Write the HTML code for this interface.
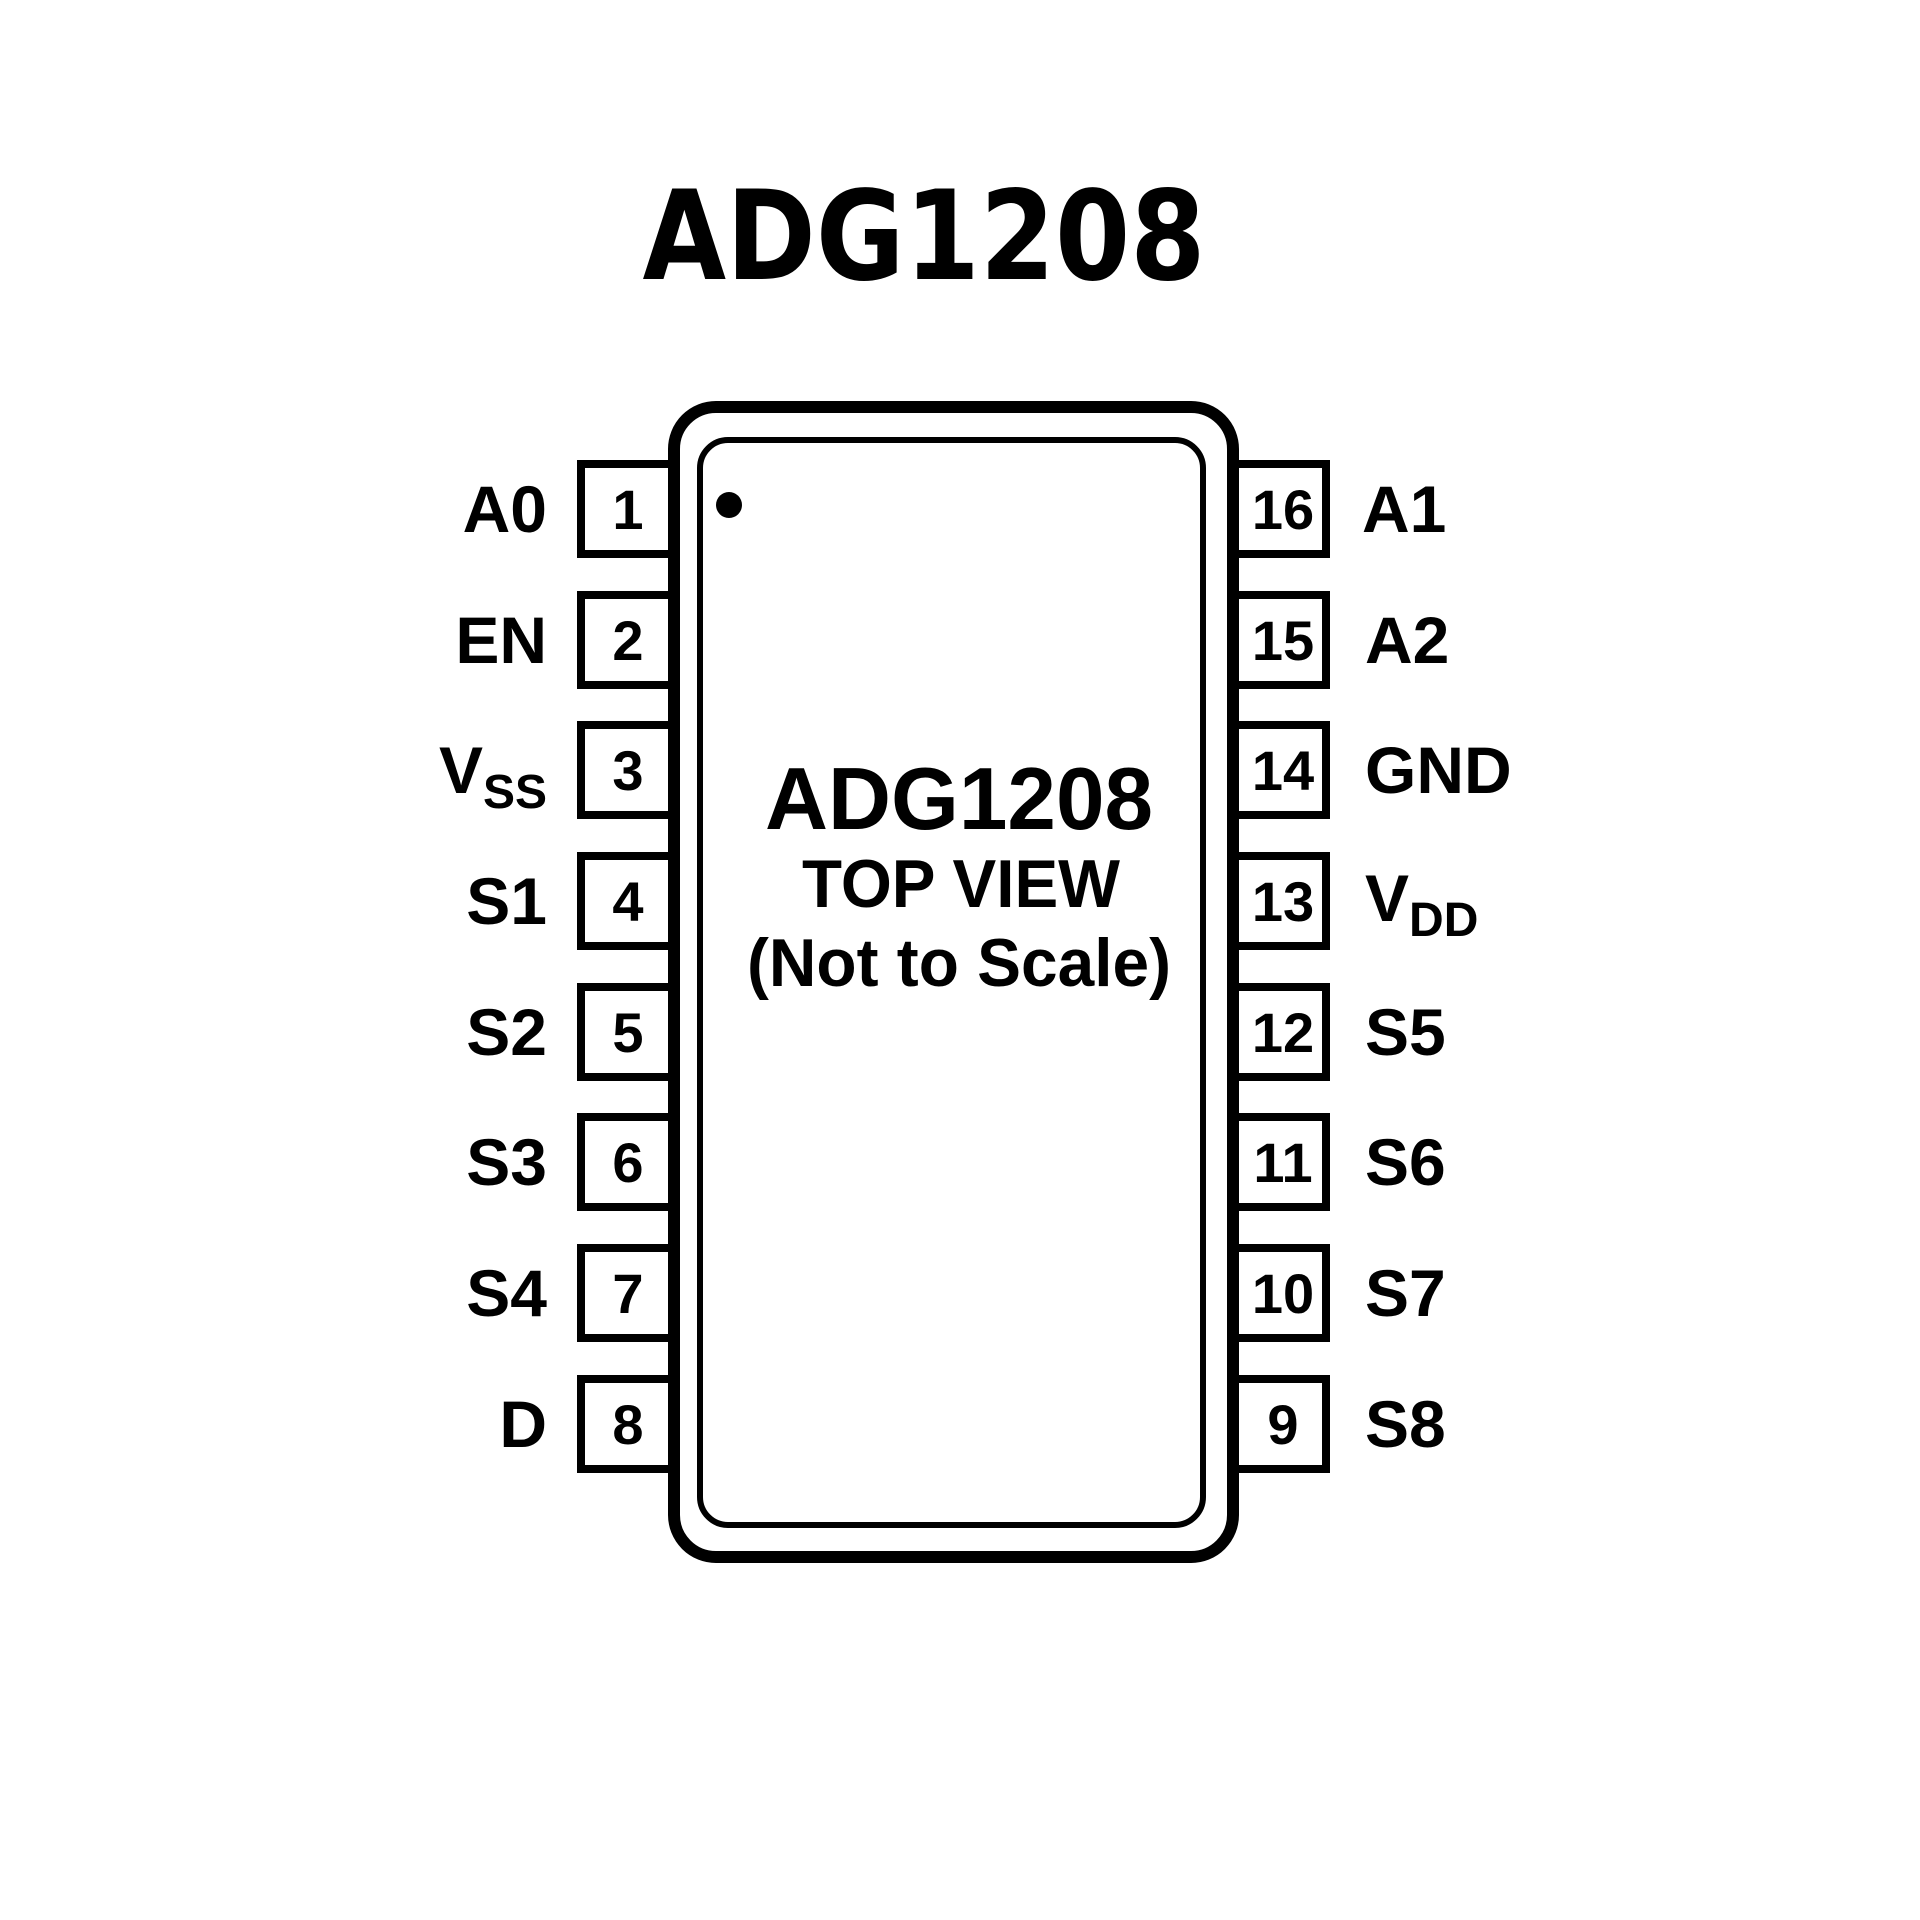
<!DOCTYPE html>
<html><head><meta charset="utf-8"><style>html,body{margin:0;padding:0;background:#fff}svg{display:block}</style></head>
<body>
<svg width="1920" height="1920" viewBox="0 0 1920 1920" xmlns="http://www.w3.org/2000/svg" font-family="Liberation Sans, Arial, sans-serif" font-weight="bold">
<rect width="1920" height="1920" fill="#fff"/>
<text x="924" y="279" font-size="124" text-anchor="middle" font-family="DejaVu Sans, sans-serif" textLength="563" lengthAdjust="spacingAndGlyphs">ADG1208</text>
<g fill="none" stroke="#000">
<rect x="674" y="407" width="559" height="1150" rx="42" stroke-width="12"/>
<rect x="700" y="440" width="503" height="1085" rx="28" stroke-width="6"/>
</g>
<circle cx="729" cy="505" r="13" fill="#000"/>
<g fill="none" stroke="#000" stroke-width="8">
<path d="M668 464H581V554H668"/><path d="M668 595H581V685H668"/><path d="M668 725H581V815H668"/><path d="M668 856H581V946H668"/>
<path d="M668 987H581V1077H668"/><path d="M668 1117H581V1207H668"/><path d="M668 1248H581V1338H668"/><path d="M668 1379H581V1469H668"/>
<path d="M1238 464H1326V554H1238"/><path d="M1238 595H1326V685H1238"/><path d="M1238 725H1326V815H1238"/><path d="M1238 856H1326V946H1238"/>
<path d="M1238 987H1326V1077H1238"/><path d="M1238 1117H1326V1207H1238"/><path d="M1238 1248H1326V1338H1238"/><path d="M1238 1379H1326V1469H1238"/>
</g>
<g font-size="56" text-anchor="middle">
<text x="628" y="529">1</text><text x="628" y="660">2</text><text x="628" y="790">3</text><text x="628" y="921">4</text>
<text x="628" y="1052">5</text><text x="628" y="1182">6</text><text x="628" y="1313">7</text><text x="628" y="1444">8</text>
<text x="1283" y="529">16</text><text x="1283" y="660">15</text><text x="1283" y="790">14</text><text x="1283" y="921">13</text>
<text x="1283" y="1052">12</text><text x="1283" y="1182">11</text><text x="1283" y="1313">10</text><text x="1283" y="1444">9</text>
</g>
<g font-size="66" text-anchor="end">
<text x="547" y="532">A0</text><text x="547" y="663">EN</text>
<text x="547" y="793">V<tspan font-size="48" dy="15">SS</tspan></text>
<text x="547" y="924">S1</text><text x="547" y="1055">S2</text><text x="547" y="1185">S3</text><text x="547" y="1316">S4</text><text x="547" y="1447">D</text>
</g>
<g font-size="66">
<text x="1362" y="532">A1</text><text x="1365" y="663">A2</text><text x="1365" y="793">GND</text>
<text x="1365" y="921">V<tspan font-size="48" dy="15">DD</tspan></text>
<text x="1365" y="1055">S5</text><text x="1365" y="1185">S6</text><text x="1365" y="1316">S7</text><text x="1365" y="1447">S8</text>
</g>
<g text-anchor="middle">
<text x="959" y="829" font-size="88" textLength="388" lengthAdjust="spacingAndGlyphs">ADG1208</text>
<text x="961" y="907" font-size="68" textLength="318" lengthAdjust="spacingAndGlyphs">TOP VIEW</text>
<text x="959" y="986" font-size="68" textLength="424" lengthAdjust="spacingAndGlyphs">(Not to Scale)</text>
</g>
</svg>
</body></html>
